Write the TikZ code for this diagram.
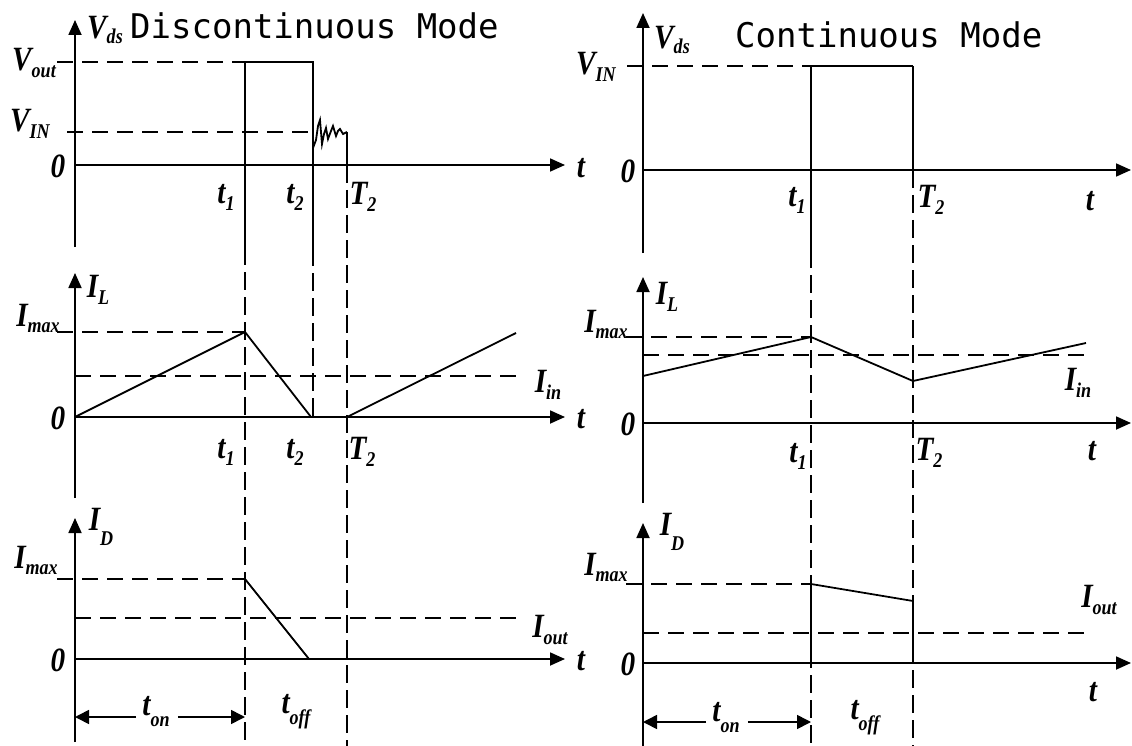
\documentclass[tikz,border=0pt]{standalone}
\usepackage{fontspec}
\setmainfont{Liberation Serif}
\newfontfamily\titlef{DejaVu Sans Mono}
\usetikzlibrary{arrows.meta}
\newcommand{\ML}{\bfseries\itshape\fontsize{34}{34}\selectfont}
\newcommand{\SL}{\bfseries\itshape\fontsize{21}{21}\selectfont}
\newcommand{\Lb}[3][-7pt]{\scalebox{0.86}[1]{{\ML #2}{\SL\raisebox{#1}{#3}}}}
\newcommand{\Lz}[1]{\scalebox{0.86}[1]{\ML #1}}
\tikzset{
  axis/.style={line width=1.8pt,-{Triangle[length=15pt,width=13pt]}},
  wave/.style={line width=1.8pt,line join=miter},
  guide/.style={line width=1.5pt,dash pattern=on 18pt off 7pt},
  hguide/.style={line width=1.5pt,dash pattern=on 16pt off 9pt},
  lab/.style={inner sep=0pt,font=\ML},
  ttl/.style={inner sep=0pt,anchor=west,font=\titlef\fontsize{34}{34}\selectfont},
  dimarrow/.style={line width=1.6pt,-{Triangle[length=14pt,width=14pt]}}
}
\begin{document}
\begin{tikzpicture}[x=1pt,y=-1pt]
\useasboundingbox (0,0) rectangle (1132,746);
% ---------------- LEFT: Discontinuous ----------------
\coordinate (LAt) at (75,20);  \coordinate (LAb) at (75,247);
\coordinate (LXa) at (75,165); \coordinate (LXe) at (565,165);
\coordinate (LBt) at (75,273); \coordinate (LBb) at (75,498);
\coordinate (LYa) at (75,417); \coordinate (LYe) at (565,417);
\coordinate (LCt) at (75,518); \coordinate (LCb) at (75,742);
\coordinate (LZa) at (75,659); \coordinate (LZe) at (565,659);
\draw[axis] (LAb) -- (LAt);
\draw[axis] (LXa) -- (LXe);
\draw[axis] (LBb) -- (LBt);
\draw[axis] (LYa) -- (LYe);
\draw[axis] (LCb) -- (LCt);
\draw[axis] (LZa) -- (LZe);
% guides
\draw[wave] (245,62) -- (245,247);
\draw[guide] (245,247) -- (245,746);
\draw[wave] (313,62) -- (313,248);
\draw[guide] (313,248) -- (313,417);
\draw[wave] (347,132) -- (347,165);
\draw[guide] (347,165) -- (347,746);
% horizontal dashed levels
\draw[hguide] (57,62) -- (245,62);
\draw[hguide] (67,132) -- (313,132);
\draw[hguide] (57,332) -- (245,332);
\draw[hguide] (75,376) -- (518,376);
\draw[hguide] (57,579) -- (245,579);
\draw[hguide] (75,618) -- (516,618);
% waveforms
\draw[wave] (245,62) -- (313,62) -- (313,148) -- (316,140) -- (318,126) -- (320,120)
  -- (322,144) -- (324,134) -- (326,128) -- (328,139) -- (331,131) -- (333,126)
  -- (336,136) -- (338,131) -- (340,129) -- (343,134) -- (347,132);
\draw[wave] (75,417) -- (245,332) -- (311,417);
\draw[wave] (347,417) -- (516,333);
\draw[wave] (245,579) -- (309,659);
% labels
\node[ttl] (titleL) at (130,26) {Discontinuous Mode};
\node[lab] (VdsL) at (105,30) {\Lb[-5pt]{V}{ds}};
\node[lab] (VoutL) at (34,63) {\Lb[-7pt]{V}{out}};
\node[lab] (VinL) at (30,124) {\Lb[-7pt]{V}{IN}};
\node[lab] (zA) at (58,166) {\Lz{0}};
\node[lab] (t1A) at (226,197) {\Lb{t}{1}};
\node[lab] (t2A) at (295,197) {\Lb{t}{2}};
\node[lab] (T2A) at (363,197) {\Lb{T}{2}};
\node[lab] (tA) at (581,168) {\Lz{t}};
\node[lab] (ILL) at (98,290) {\Lb{I}{L}};
\node[lab] (ImaxB) at (38,318) {\Lb[-6pt]{I}{max}};
\node[lab] (zB) at (58,418) {\Lz{0}};
\node[lab] (IinL) at (548,385) {\Lb{I}{in}};
\node[lab] (t1B) at (226,452) {\Lb{t}{1}};
\node[lab] (t2B) at (295,452) {\Lb{t}{2}};
\node[lab] (T2B) at (362,452) {\Lb{T}{2}};
\node[lab] (tB) at (581,419) {\Lz{t}};
\node[lab] (IDL) at (101,527) {\Lb[-15pt]{I}{D}};
\node[lab] (ImaxC) at (36,560) {\Lb[-6pt]{I}{max}};
\node[lab] (zC) at (58,660) {\Lz{0}};
\node[lab] (IoutL) at (550,630) {\Lb{I}{out}};
\node[lab] (tC) at (581,661) {\Lz{t}};
\node[lab] (tonL) at (156,712) {\Lb[-11pt]{t}{on}};
\node[lab] (toffL) at (296,712) {\Lb[-11pt]{t}{off}};
\coordinate (tonLa) at (75,717);
\coordinate (tonLb) at (245,717);
\draw[dimarrow] (tonL.west |- tonLa) ++(-6,0) -- (tonLa);
\draw[dimarrow] (tonL.east |- tonLb) ++(8,0) -- (tonLb);
% ---------------- RIGHT: Continuous ----------------
\coordinate (RAt) at (643,13);  \coordinate (RAb) at (643,253);
\coordinate (RXa) at (643,170); \coordinate (RXe) at (1131,170);
\coordinate (RBt) at (643,277); \coordinate (RBb) at (643,503);
\coordinate (RYa) at (643,423); \coordinate (RYe) at (1131,423);
\coordinate (RCt) at (643,523); \coordinate (RCb) at (643,746);
\coordinate (RZa) at (643,663); \coordinate (RZe) at (1131,663);
\draw[axis] (RAb) -- (RAt);
\draw[axis] (RXa) -- (RXe);
\draw[axis] (RBb) -- (RBt);
\draw[axis] (RYa) -- (RYe);
\draw[axis] (RCb) -- (RCt);
\draw[axis] (RZa) -- (RZe);
% guides
\draw[wave] (811,66) -- (811,250);
\draw[guide] (811,250) -- (811,746);
\draw[wave] (913,66) -- (913,170);
\draw[guide] (913,170) -- (913,746);
% horizontal dashed levels
\draw[hguide] (627,66) -- (811,66);
\draw[hguide] (626,337) -- (811,337);
\draw[hguide] (643,355) -- (1086,355);
\draw[hguide] (626,584) -- (811,584);
\draw[hguide] (643,633) -- (1086,633);
% waveforms
\draw[wave] (811,66) -- (913,66);
\draw[wave] (643,376) -- (811,337) -- (913,381) -- (1086,343);
\draw[wave] (811,663) -- (811,584) -- (913,601) -- (913,663);
% labels
\node[ttl] (titleR) at (735,35) {Continuous Mode};
\node[lab] (VdsR) at (672,40) {\Lb[-5pt]{V}{ds}};
\node[lab] (VinR) at (596,67) {\Lb[-7pt]{V}{IN}};
\node[lab] (zD) at (628,171) {\Lz{0}};
\node[lab] (t1D) at (797,200) {\Lb{t}{1}};
\node[lab] (T2D) at (931,200) {\Lb{T}{2}};
\node[lab] (tD) at (1090,201) {\Lz{t}};
\node[lab] (ILR) at (667,297) {\Lb{I}{L}};
\node[lab] (ImaxE) at (606,324) {\Lb[-6pt]{I}{max}};
\node[lab] (IinR) at (1078,383) {\Lb{I}{in}};
\node[lab] (zE) at (628,424) {\Lz{0}};
\node[lab] (t1E) at (798,456) {\Lb{t}{1}};
\node[lab] (T2E) at (929,453) {\Lb{T}{2}};
\node[lab] (tE) at (1092,451) {\Lz{t}};
\node[lab] (IDR) at (672,532) {\Lb[-15pt]{I}{D}};
\node[lab] (ImaxF) at (606,567) {\Lb[-6pt]{I}{max}};
\node[lab] (IoutR) at (1099,600) {\Lb{I}{out}};
\node[lab] (zF) at (628,664) {\Lz{0}};
\node[lab] (tF) at (1093,692) {\Lz{t}};
\node[lab] (tonR) at (726,718) {\Lb[-11pt]{t}{on}};
\node[lab] (toffR) at (865,718) {\Lb[-11pt]{t}{off}};
\coordinate (tonRa) at (643,722);
\coordinate (tonRb) at (811,722);
\draw[dimarrow] (tonR.west |- tonRa) ++(-6,0) -- (tonRa);
\draw[dimarrow] (tonR.east |- tonRb) ++(8,0) -- (tonRb);
\end{tikzpicture}
\end{document}
